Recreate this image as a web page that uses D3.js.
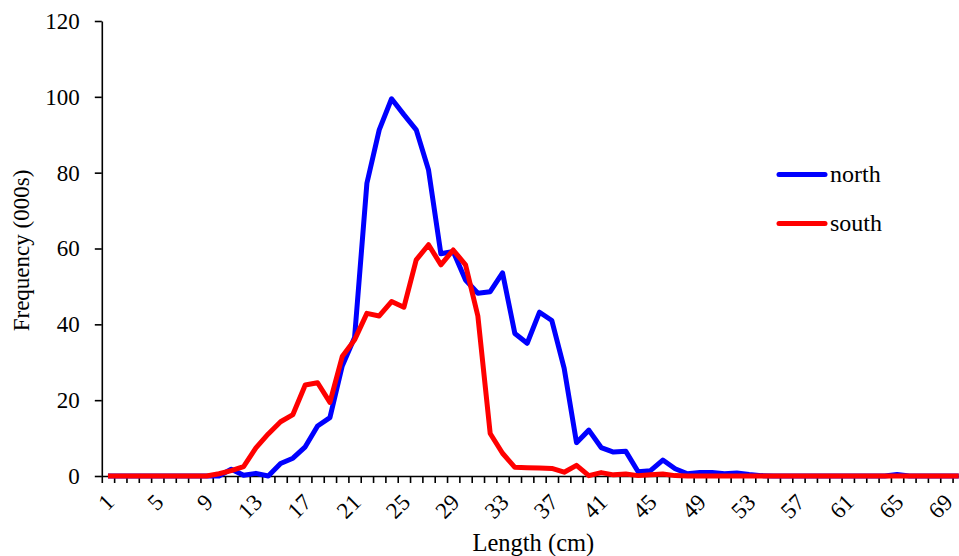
<!DOCTYPE html>
<html>
<head>
<meta charset="utf-8">
<script src="https://cdn.jsdelivr.net/npm/d3@7"></script>
<style>
  html, body { margin: 0; padding: 0; background: #fff; }
  svg { display: block; }
</style>
</head>
<body>
<svg id="chart" width="959" height="556"></svg>
<script>
// length classes (cm)
const lengths = [1, 2, 3, 4, 5, 6, 7, 8, 9, 10, 11, 12, 13, 14, 15, 16, 17, 18, 19, 20,
    21, 22, 23, 24, 25, 26, 27, 28, 29, 30, 31, 32, 33, 34, 35, 36, 37, 38, 39, 40,
    41, 42, 43, 44, 45, 46, 47, 48, 49, 50, 51, 52, 53, 54, 55, 56, 57, 58, 59, 60,
    61, 62, 63, 64, 65, 66, 67, 68, 69, 70];

const north = [0, 0, 0, 0, 0, 0, 0, 0, 0, 0, 1.8, 0.2, 0.7, 0, 3.3, 4.7, 7.7, 13.2, 15.4, 29,
    36.5, 77.2, 91.3, 99.5, 95.3, 91.3, 80.7, 58.6, 59.2, 51.7, 48.2, 48.6, 53.6, 37.6, 35, 43.2, 41, 28.4, 8.8, 12.1,
    7.5, 6.3, 6.5, 1.1, 1.4, 4.2, 1.9, 0.6, 0.9, 0.9, 0.6, 0.8, 0.4, 0.1, 0, 0, 0, 0, 0, 0,
    0, 0, 0, 0, 0.4, 0, 0, 0, 0, 0];

const south = [0, 0, 0, 0, 0, 0, 0, 0, 0, 0.6, 1.4, 2.5, 7.4, 11.1, 14.3, 16.2, 24, 24.6, 19.4, 31.5,
    35.9, 42.9, 42.2, 46, 44.5, 57, 61, 55.7, 59.6, 55.7, 42.2, 11.2, 6, 2.3, 2.2, 2.1, 2.0, 1.0, 2.8, 0.1,
    0.9, 0.3, 0.5, 0.1, 0.3, 0.5, 0.1, 0, 0, 0, 0, 0, 0, 0, 0, 0, 0, 0, 0, 0,
    0, 0, 0, 0, 0, 0, 0, 0, 0, 0];

const xTickLabels = [1, 5, 9, 13, 17, 21, 25, 29, 33, 37, 41, 45, 49, 53, 57, 61, 65, 69];
const yTicks = [0, 20, 40, 60, 80, 100, 120];

const seriesNames = ['north', 'south'];
const seriesColors = ['#0000ff', '#ff0000'];

const font = '"Liberation Serif", "Times New Roman", serif';

const svg = d3.select('#chart');

// plot area runs a little past the right edge of the picture
const plotLeft = 101.8, plotTop = 21, plotBottom = 476;
const step = 12.33;
const plotRight = plotLeft + step * lengths.length;

const x = d3.scaleBand()
    .domain(lengths)
    .range([plotLeft, plotRight])
    .padding(0);

const xEdges = d3.scaleLinear()
    .domain([0, lengths.length])
    .range([plotLeft, plotRight]);

const y = d3.scaleLinear()
    .domain([0, 120])
    .range([plotBottom, plotTop]);

const cx = d => x(d) + x.bandwidth() / 2;

// y axis
const yAxis = svg.append('g')
    .attr('transform', 'translate(' + plotLeft + ',0)')
    .call(d3.axisLeft(y).tickValues(yTicks).tickSize(7).tickPadding(15).tickSizeOuter(0));
yAxis.select('.domain').attr('stroke', '#000').attr('stroke-width', 1.6);
yAxis.selectAll('.tick line').attr('stroke', '#000').attr('stroke-width', 1.6);
yAxis.selectAll('text')
    .attr('font-family', font)
    .attr('font-size', 23)
    .attr('fill', '#000');

// x axis: ticks between categories
const xAxis = svg.append('g')
    .attr('transform', 'translate(0,' + plotBottom + ')')
    .call(d3.axisBottom(xEdges).tickValues(d3.range(0, lengths.length + 1)).tickSize(7).tickFormat('').tickSizeOuter(0));
xAxis.select('.domain').attr('stroke', '#000').attr('stroke-width', 1.6);
xAxis.selectAll('.tick line').attr('stroke', '#000').attr('stroke-width', 1.6);

// x tick labels, rotated
svg.append('g')
    .selectAll('text')
    .data(xTickLabels)
    .join('text')
    .attr('transform', d => 'translate(' + (cx(d) + 2) + ',' + 498 + ') rotate(-45)')
    .attr('text-anchor', 'end')
    .attr('dy', '0.35em')
    .attr('font-family', font)
    .attr('font-size', 23)
    .attr('fill', '#000')
    .text(d => d);

// axis titles
svg.append('text')
    .attr('x', (plotLeft + plotRight) / 2)
    .attr('y', 551)
    .attr('text-anchor', 'middle')
    .attr('font-family', font)
    .attr('font-size', 24.5)
    .text('Length (cm)');

svg.append('text')
    .attr('transform', 'translate(29,' + ((plotTop + plotBottom) / 2 + 2) + ') rotate(-90)')
    .attr('text-anchor', 'middle')
    .attr('font-family', font)
    .attr('font-size', 23)
    .text('Frequency (000s)');

// lines
const line = d3.line()
    .x((d, i) => cx(lengths[i]))
    .y(d => y(d));

[north, south].forEach((values, k) => {
    svg.append('path')
        .datum(values)
        .attr('d', line)
        .attr('fill', 'none')
        .attr('stroke', seriesColors[k])
        .attr('stroke-width', 5)
        .attr('stroke-linejoin', 'round');
});

// legend
const legend = svg.append('g');
seriesNames.forEach((name, k) => {
    const ly = 174.5 + k * 49;
    legend.append('line')
        .attr('x1', 779).attr('x2', 825)
        .attr('y1', ly).attr('y2', ly)
        .attr('stroke', seriesColors[k])
        .attr('stroke-width', 5)
        .attr('stroke-linecap', 'round');
    legend.append('text')
        .attr('x', 830)
        .attr('y', ly + 7.5)
        .attr('font-family', font)
        .attr('font-size', 24)
        .attr('fill', '#000')
        .text(name);
});
</script>
</body>
</html>
